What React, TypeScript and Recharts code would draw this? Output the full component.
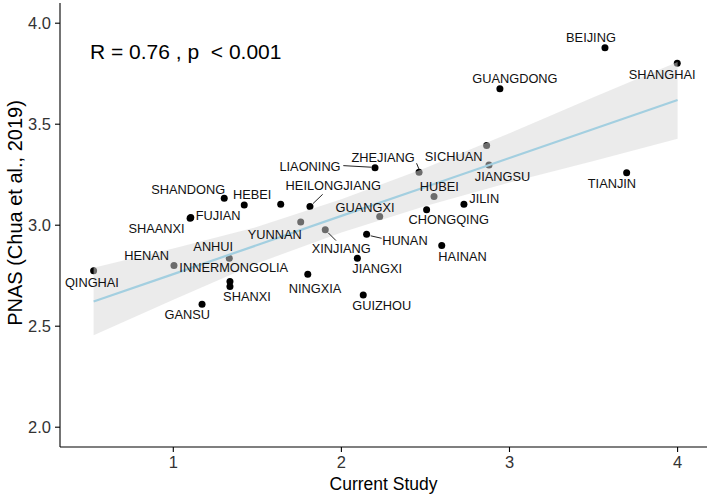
import React from 'react';
import { ComposedChart, Scatter, Area, Line, XAxis, YAxis } from 'recharts';

const provinces = [
  'BEIJING', 'SHANGHAI', 'GUANGDONG', 'SICHUAN', 'JIANGSU', 'TIANJIN', 'ZHEJIANG', 'LIAONING',
  'HUBEI', 'JILIN', 'CHONGQING', 'HEILONGJIANG', 'HEBEI', 'SHANDONG', 'XIZANG', 'FUJIAN',
  'SHAANXI', 'YUNNAN', 'GUANGXI', 'XINJIANG', 'HUNAN', 'ANHUI', 'JIANGXI', 'HENAN',
  'QINGHAI', 'INNERMONGOLIA', 'SHANXI', 'NINGXIA', 'HAINAN', 'GUIZHOU', 'GANSU',
];
const currentStudy = [
  3.568, 3.998, 2.943, 2.864, 2.878, 3.697, 2.462, 2.2,
  2.551, 2.729, 2.507, 1.813, 1.422, 1.303, 1.639, 1.104,
  1.1, 1.758, 2.228, 1.904, 2.15, 1.333, 2.095, 1.004,
  0.526, 1.337, 1.337, 1.8, 2.597, 2.13, 1.171,
];
const pnas = [
  3.879, 3.802, 3.675, 3.394, 3.298, 3.26, 3.262, 3.285,
  3.142, 3.104, 3.076, 3.092, 3.1, 3.134, 3.104, 3.038,
  3.035, 3.016, 3.043, 2.977, 2.955, 2.837, 2.837, 2.8,
  2.775, 2.721, 2.696, 2.757, 2.899, 2.655, 2.609,
];
// labels shown by the repel layer (XIZANG's label was dropped in the original)
const shownLabels = provinces.filter((p) => p !== 'XIZANG');

const fitX = [0.526, 1.0, 1.5, 2.0, 2.5, 3.0, 3.5, 4.0];
const fitY = [2.622, 2.758, 2.902, 3.046, 3.189, 3.333, 3.476, 3.62];
const bandLow = [2.455, 2.631, 2.812, 2.964, 3.095, 3.211, 3.318, 3.428];
const bandHigh = [2.789, 2.885, 2.992, 3.128, 3.283, 3.455, 3.634, 3.808];

const xTicks = [1, 2, 3, 4];
const yTicks = [2.0, 2.5, 3.0, 3.5, 4.0];
const statText = 'R = 0.76 , p  < 0.001';
const xTitle = 'Current Study';
const yTitle = 'PNAS (Chua et al., 2019)';

const FONT = '"Liberation Sans", Arial, Helvetica, sans-serif';

// label placement (pixel offsets of label centre from its point) and repel segments
const labelOffsets: Record<string, { dx: number; dy: number; seg?: [number, number, number, number] }> = {
  BEIJING: { dx: -14, dy: -10 },
  SHANGHAI: { dx: -15, dy: 11 },
  GUANGDONG: { dx: 15, dy: -10 },
  SICHUAN: { dx: -33, dy: 11 },
  JIANGSU: { dx: 13.5, dy: 11.7 },
  TIANJIN: { dx: -14.7, dy: 10.6 },
  ZHEJIANG: { dx: -36, dy: -14.6, seg: [-2.5, -9, 0, -3] },
  LIAONING: { dx: -65, dy: -1, seg: [-31.7, -2, -3.5, -0.4] },
  HUBEI: { dx: 5.2, dy: -10 },
  JILIN: { dx: 20.3, dy: -5.3 },
  CHONGQING: { dx: 22.1, dy: 10 },
  HEILONGJIANG: { dx: 23.3, dy: -21, seg: [3, -3, 12.7, -12.3] },
  HEBEI: { dx: 8, dy: -10.5 },
  SHANDONG: { dx: -36, dy: -9 },
  FUJIAN: { dx: 27.3, dy: -1.7 },
  SHAANXI: { dx: -33.5, dy: 9.8 },
  YUNNAN: { dx: -26, dy: 12.7 },
  GUANGXI: { dx: -14.7, dy: -9.2 },
  XINJIANG: { dx: 16, dy: 18.3, seg: [3, 3, 10.7, 10.7] },
  HUNAN: { dx: 38.3, dy: 6.4, seg: [4, 1.5, 15, 4] },
  ANHUI: { dx: -16, dy: -11.3 },
  JIANGXI: { dx: 19.9, dy: 10.4 },
  HENAN: { dx: -27.3, dy: -10 },
  QINGHAI: { dx: -1.7, dy: 11.3 },
  INNERMONGOLIA: { dx: 3.8, dy: -13.9 },
  SHANXI: { dx: 17, dy: 10 },
  NINGXIA: { dx: 7.3, dy: 13.7 },
  HAINAN: { dx: 20.8, dy: 10.6 },
  GUIZHOU: { dx: 18.5, dy: 10.7 },
  GANSU: { dx: -14.8, dy: 10 },
};

const points = provinces.map((name, i) => ({ name, x: currentStudy[i], y: pnas[i] }));
const fitData = fitX.map((x, i) => ({ x, fit: fitY[i], band: [bandLow[i], bandHigh[i]] }));

const DotShape = (props: any) => {
  const { cx, cy } = props;
  if (cx == null || cy == null) return <g />;
  return <circle cx={cx} cy={cy} r={3.5} fill="#000" />;
};

const LabelShape = (props: any) => {
  const { cx, cy, payload } = props;
  const name = payload?.name;
  const o = labelOffsets[name];
  if (cx == null || cy == null || !o || !shownLabels.includes(name)) return <g />;
  const fs = 12.8;
  return (
    <g>
      {o.seg && (
        <line
          x1={cx + o.seg[0]}
          y1={cy + o.seg[1]}
          x2={cx + o.seg[2]}
          y2={cy + o.seg[3]}
          stroke="#222"
          strokeWidth={1}
        />
      )}
      <text
        x={cx + o.dx}
        y={cy + o.dy + 0.358 * fs}
        textAnchor="middle"
        fontSize={fs}
        fontFamily={FONT}
        fill="#111"
      >
        {name}
      </text>
    </g>
  );
};

const Annotations = () => (
  <g>
    <text x={90} y={59} fontSize={21} fontFamily={FONT} fill="#000" style={{ whiteSpace: 'pre' }}>
      {statText}
    </text>
    <text x={383.5} y={490} textAnchor="middle" fontSize={17.5} fontFamily={FONT} fill="#000">
      {xTitle}
    </text>
    <text
      x={21.5}
      y={213}
      textAnchor="middle"
      fontSize={20}
      fontFamily={FONT}
      fill="#000"
      transform="rotate(-90 21.5 213)"
    >
      {yTitle}
    </text>
  </g>
);

export default function App() {
  return (
    <div style={{ position: 'absolute', left: 0, top: 0, width: 709, height: 497, background: '#fff' }}>
      <ComposedChart width={709} height={497} margin={{ top: 3, right: 2, bottom: 0, left: 0 }}>
        <XAxis
          type="number"
          dataKey="x"
          domain={[0.326, 4.175]}
          ticks={xTicks}
          allowDataOverflow
          height={50}
          tickSize={5}
          tickMargin={4}
          axisLine={{ stroke: '#000', strokeWidth: 1.1 }}
          tickLine={{ stroke: '#000', strokeWidth: 1.1 }}
          tick={{ fill: '#333', fontSize: 16.5, fontFamily: FONT }}
          tickFormatter={(v: number) => String(v)}
        />
        <YAxis
          type="number"
          dataKey="y"
          domain={[1.902, 4.1]}
          ticks={yTicks}
          allowDataOverflow
          width={60}
          tickSize={5}
          tickMargin={4}
          axisLine={{ stroke: '#000', strokeWidth: 1.1 }}
          tickLine={{ stroke: '#000', strokeWidth: 1.1 }}
          tick={{ fill: '#333', fontSize: 16.5, fontFamily: FONT }}
          tickFormatter={(v: number) => v.toFixed(1)}
        />
        <Scatter data={points} dataKey="y" shape={DotShape} isAnimationActive={false} zIndex={50} />
        <Area
          data={fitData}
          dataKey="band"
          type="linear"
          stroke="none"
          fill="#d8d8d8"
          fillOpacity={0.5}
          isAnimationActive={false}
          activeDot={false}
          zIndex={100}
        />
        <Line
          data={fitData}
          dataKey="fit"
          type="linear"
          stroke="#a3cfe0"
          strokeWidth={2.2}
          dot={false}
          activeDot={false}
          isAnimationActive={false}
          zIndex={400}
        />
        <Scatter data={points} dataKey="y" shape={LabelShape} isAnimationActive={false} zIndex={2000} />
        <Annotations />
      </ComposedChart>
    </div>
  );
}
